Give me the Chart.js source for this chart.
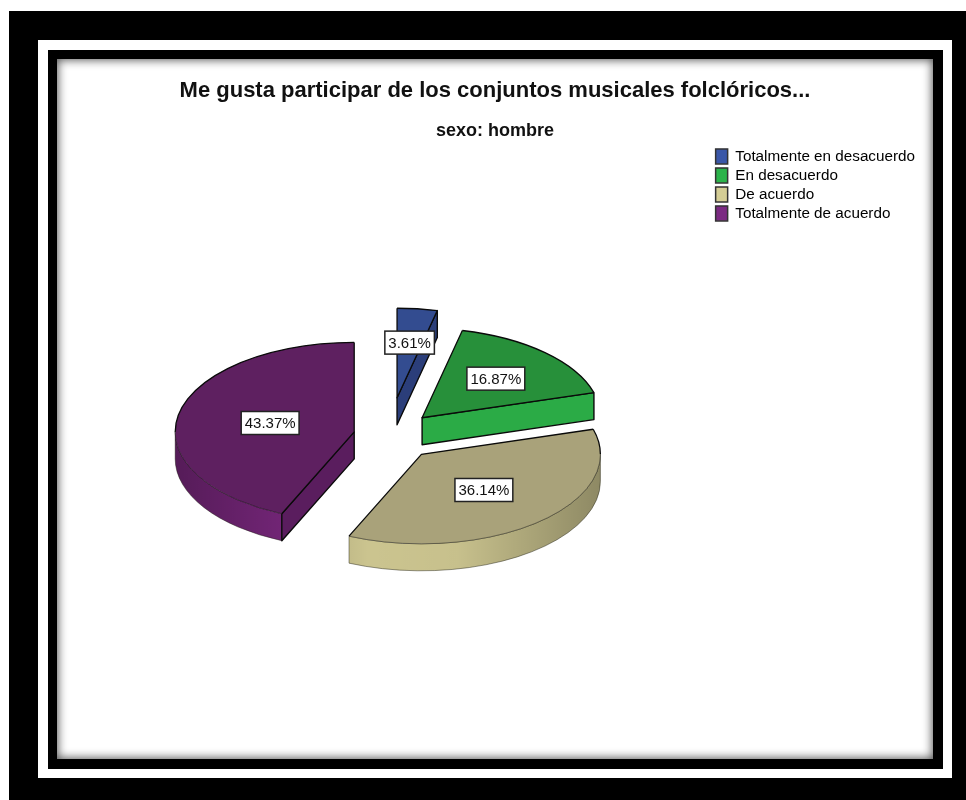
<!DOCTYPE html>
<html>
<head>
<meta charset="utf-8">
<title>Me gusta participar</title>
<script src="https://cdn.jsdelivr.net/npm/chart.js@4/dist/chart.umd.min.js"></script>
<style>
  html, body { margin: 0; padding: 0; background: #fff; overflow: hidden; }
  .box { position: absolute; }
  #outer { left: 9px; top: 11px; width: 957px; height: 789px; background: #000; }
  #ring  { left: 38px; top: 40px; width: 914px; height: 738px; background: #fff; }
  #frame { left: 48px; top: 50px; width: 895px; height: 719px; background: #000; }
  #panel { left: 57px; top: 59px; width: 876px; height: 700px; background: #fff; box-shadow: inset 0 0 10px 1px #555; }
  #pieChart { position: absolute; left: 57px; top: 59px; }
</style>
</head>
<body>
<div class="box" id="outer"></div>
<div class="box" id="ring"></div>
<div class="box" id="frame"></div>
<div class="box" id="panel"></div>
<canvas id="pieChart" width="876" height="700"></canvas>
<script>
// values
var categories = ['Totalmente en desacuerdo', 'En desacuerdo', 'De acuerdo', 'Totalmente de acuerdo'];
var percents   = [3.61, 16.87, 36.14, 43.37];

// colours
var topColors    = ['#334c90', '#27903a', '#a9a27a', '#5e2060'];
var legendColors = ['#3a57a8', '#2bb34a', '#d4cd95', '#7b2a82'];
var rimColors    = ['#2b3e7a', '#2bab46', '#cbc48f', '#76267a'];
var cutColors    = ['#2b3e7a', '#2bab46', '#a9a27a', '#5a1d5e'];

// how the exploded 3D pie sits
var explode   = [76, 49, 50, 35];
var labelPos  = [0.62, 0.6, 0.53, 0.48];
var squash    = 0.5;
var depth     = 27;
var fontName  = '"Liberation Sans", Arial, sans-serif';

// geometry of one slice on screen, from the arc element Chart.js laid out
function sliceOf(arc, i) {
  var mid = (arc.startAngle + arc.endAngle) / 2;
  return {
    cx: arc.x + Math.cos(mid) * explode[i],
    cy: arc.y + Math.sin(mid) * explode[i] * squash,
    r: arc.outerRadius,
    a0: arc.startAngle,
    a1: arc.endAngle,
    mid: mid
  };
}

function rimPath(ctx, s, from, to) {
  ctx.beginPath();
  ctx.ellipse(s.cx, s.cy, s.r, s.r * squash, 0, from, to);
  ctx.ellipse(s.cx, s.cy + depth, s.r, s.r * squash, 0, to, from, true);
  ctx.closePath();
}

function cutPath(ctx, s, a) {
  var px = s.cx + Math.cos(a) * s.r;
  var py = s.cy + Math.sin(a) * s.r * squash;
  ctx.beginPath();
  ctx.moveTo(s.cx, s.cy);
  ctx.lineTo(px, py);
  ctx.lineTo(px, py + depth);
  ctx.lineTo(s.cx, s.cy + depth);
  ctx.closePath();
}

var pie3d = {
  id: 'pie3d',
  // side walls go under the top faces
  beforeDatasetsDraw: function (chart) {
    var ctx = chart.ctx;
    chart.getDatasetMeta(0).data.forEach(function (arc, i) {
      var s = sliceOf(arc, i);
      ctx.save();
      ctx.lineJoin = 'round';

      // front rim: only the part of the circle facing the viewer
      var from = Math.max(s.a0, 0), to = Math.min(s.a1, Math.PI);
      if (to > from) {
        var shade = ctx.createLinearGradient(s.cx - s.r, 0, s.cx + s.r, 0);
        shade.addColorStop(0, 'rgba(0,0,0,0.28)');
        shade.addColorStop(0.35, 'rgba(0,0,0,0)');
        shade.addColorStop(0.6, 'rgba(0,0,0,0.02)');
        shade.addColorStop(1, 'rgba(0,0,0,0.3)');
        rimPath(ctx, s, from, to);
        ctx.fillStyle = rimColors[i];
        ctx.fill();
        ctx.fillStyle = shade;
        ctx.fill();
        ctx.strokeStyle = 'rgba(30,30,20,0.45)';
        ctx.lineWidth = 1;
        ctx.stroke();
      }

      // cut faces that look towards the viewer
      [[s.a0, Math.cos(s.a0) < -0.001], [s.a1, Math.cos(s.a1) > 0.001]].forEach(function (c) {
        if (!c[1]) return;
        cutPath(ctx, s, c[0]);
        ctx.fillStyle = cutColors[i];
        ctx.fill();
        ctx.strokeStyle = '#0a0a0a';
        ctx.lineWidth = 1.4;
        ctx.stroke();
      });
      ctx.restore();
    });
  },
  // top faces: the library's own arcs, flattened and moved out
  beforeDatasetDraw: function (chart) {
    var ctx = chart.ctx;
    chart.getDatasetMeta(0).data.forEach(function (arc, i) {
      var s = sliceOf(arc, i);
      ctx.save();
      ctx.translate(s.cx, s.cy);
      ctx.scale(1, squash);
      ctx.translate(-arc.x, -arc.y);
      arc.draw(ctx);
      ctx.restore();
    });
    return false;
  },
  afterDatasetsDraw: function (chart) {
    var ctx = chart.ctx;
    chart.getDatasetMeta(0).data.forEach(function (arc, i) {
      var s = sliceOf(arc, i);
      ctx.save();
      ctx.lineJoin = 'round';

      // the straight cut edges are black, the curved edge fades on the front rim
      ctx.strokeStyle = '#0a0a0a';
      ctx.lineWidth = 1.3;
      ctx.beginPath();
      ctx.moveTo(s.cx + Math.cos(s.a0) * s.r, s.cy + Math.sin(s.a0) * s.r * squash);
      ctx.lineTo(s.cx, s.cy);
      ctx.lineTo(s.cx + Math.cos(s.a1) * s.r, s.cy + Math.sin(s.a1) * s.r * squash);
      ctx.stroke();

      var from = Math.max(s.a0, 0), to = Math.min(s.a1, Math.PI);
      ctx.beginPath();
      if (to > from) {
        ctx.strokeStyle = 'rgba(10,10,10,0.4)';
        ctx.lineWidth = 1;
        ctx.ellipse(s.cx, s.cy, s.r, s.r * squash, 0, from, to);
        ctx.stroke();
        ctx.beginPath();
      }
      ctx.strokeStyle = '#0a0a0a';
      ctx.lineWidth = 1.3;
      if (s.a1 > Math.PI) {
        ctx.ellipse(s.cx, s.cy, s.r, s.r * squash, 0, Math.max(s.a0, Math.PI), s.a1);
      } else if (s.a0 < 0) {
        ctx.ellipse(s.cx, s.cy, s.r, s.r * squash, 0, s.a0, Math.min(s.a1, 0));
      }
      ctx.stroke();
      ctx.restore();
    });

    // percent boxes
    chart.getDatasetMeta(0).data.forEach(function (arc, i) {
      var s = sliceOf(arc, i);
      var lx = s.cx + Math.cos(s.mid) * s.r * labelPos[i];
      var ly = s.cy + Math.sin(s.mid) * s.r * squash * labelPos[i];
      var text = percents[i].toFixed(2) + '%';
      ctx.save();
      ctx.font = '15px ' + fontName;
      var w = ctx.measureText(text).width + 7, h = 23;
      ctx.fillStyle = '#fff';
      ctx.strokeStyle = '#222';
      ctx.lineWidth = 1.5;
      ctx.fillRect(lx - w / 2, ly - h / 2, w, h);
      ctx.strokeRect(lx - w / 2, ly - h / 2, w, h);
      ctx.fillStyle = '#111';
      ctx.textAlign = 'center';
      ctx.textBaseline = 'middle';
      ctx.fillText(text, lx, ly + 1);
      ctx.restore();
    });
  }
};

var pieChart = new Chart(document.getElementById('pieChart').getContext('2d'), {
  type: 'pie',
  plugins: [pie3d],
  data: {
    labels: categories,
    datasets: [{
      data: percents,
      backgroundColor: topColors,
      borderWidth: 0,
      radius: 179,
      clip: false
    }]
  },
  options: {
    responsive: false,
    animation: false,
    layout: { padding: { left: 8, right: 8, top: 0, bottom: 33 } },
    plugins: {
      tooltip: { enabled: false },
      title: {
        display: true,
        text: 'Me gusta participar de los conjuntos musicales folclóricos...',
        color: '#111',
        font: { family: fontName, size: 22, weight: 'bold' },
        padding: { top: 19, bottom: 8 }
      },
      subtitle: {
        display: true,
        text: 'sexo: hombre',
        color: '#111',
        font: { family: fontName, size: 18, weight: 'bold' },
        padding: { top: 7.8, bottom: 3.2 }
      },
      legend: {
        position: 'right',
        align: 'start',
        fullSize: false,
        labels: {
          color: '#222',
          font: { family: fontName, size: 15.25 },
          boxWidth: 12,
          boxHeight: 15,
          padding: 3.75,
          generateLabels: function (chart) {
            return categories.map(function (name, i) {
              return {
                text: name,
                fillStyle: legendColors[i],
                strokeStyle: '#333',
                lineWidth: 1.5,
                index: i
              };
            });
          }
        }
      }
    }
  }
});
</script>
</body>
</html>
